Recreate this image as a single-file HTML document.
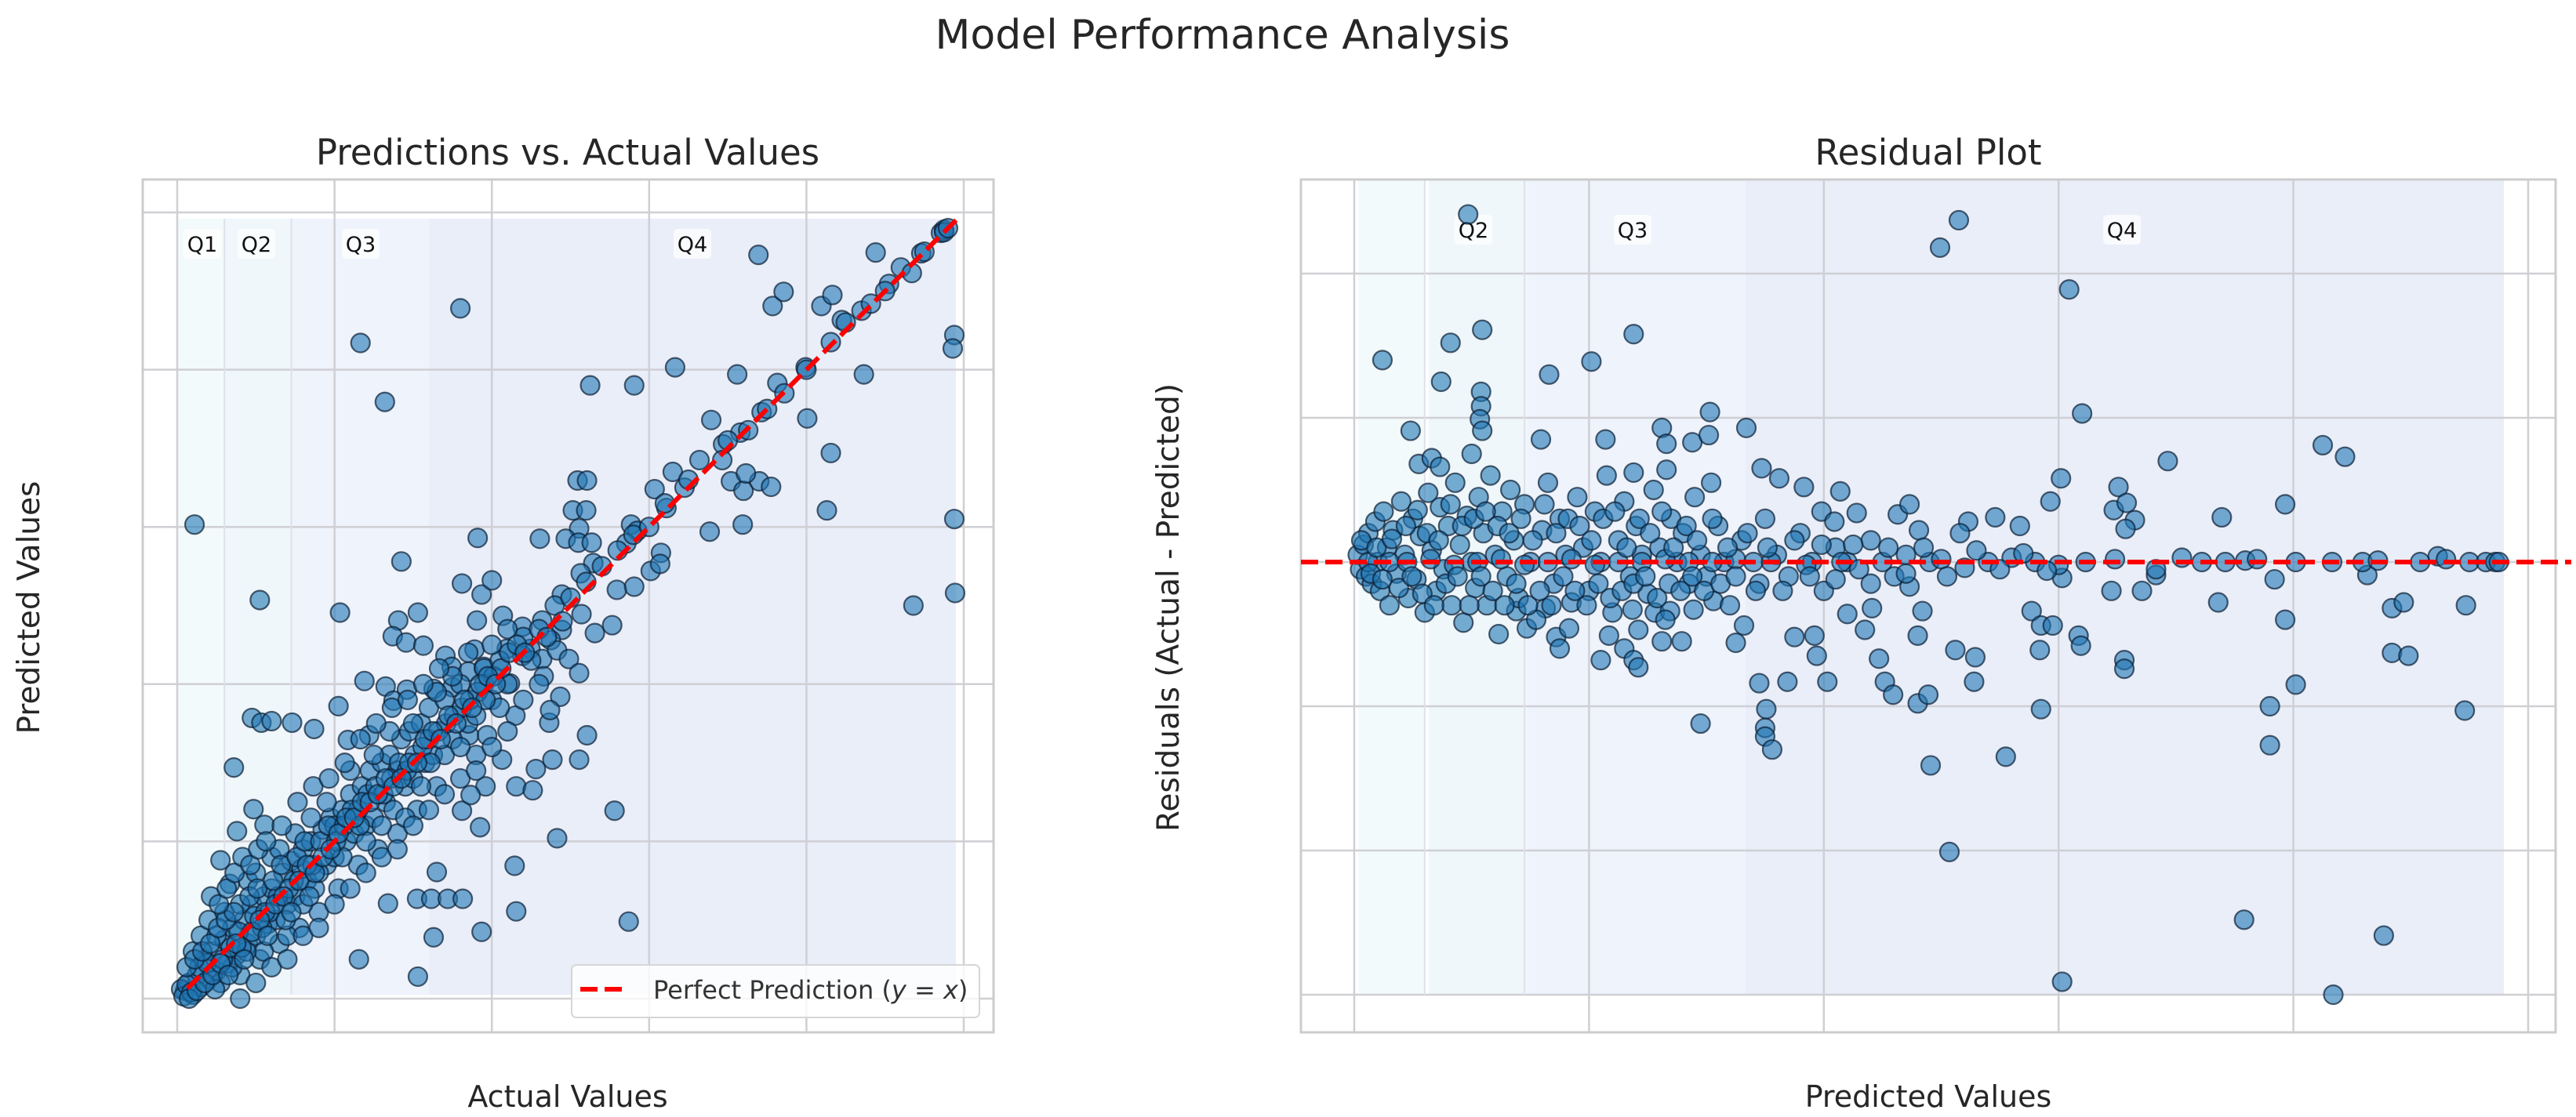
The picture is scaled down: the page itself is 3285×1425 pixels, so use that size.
<!DOCTYPE html>
<html><head><meta charset="utf-8"><style>
html,body{margin:0;padding:0;background:#fff;}
svg{display:block;font-family:"DejaVu Sans","Liberation Sans",sans-serif;}
</style></head><body>
<svg id="fig" width="3285" height="1425" viewBox="0 0 3285 1425" xmlns="http://www.w3.org/2000/svg">
<text x="1559" y="62" font-size="52" fill="#262626" text-anchor="middle">Model Performance Analysis</text>
<g id="left"></g>
<g id="right"></g>
</svg>
<script>
// ---- Left chart data: [actual, predicted]
const leftOutliers = [[0.022,0.603],[0.105,0.507],[0.233,0.834],[0.264,0.759],[0.360,0.878],[0.739,0.946],[0.888,0.949],[0.757,0.881],[0.771,0.899],[0.819,0.881],[0.833,0.895],[0.845,0.863],[0.870,0.875],[0.882,0.884],[0.905,0.909],[0.920,0.930],[0.934,0.923],[0.946,0.948],[0.971,0.974],[0.975,0.978],[0.988,0.844],[0.986,0.827],[0.633,0.803],[0.525,0.780],[0.581,0.780],[0.712,0.794],[0.799,0.803],[0.801,0.738],[0.873,0.794],[0.831,0.835],[0.831,0.694],[0.743,0.746],[0.763,0.783],[0.772,0.770],[0.679,0.736],[0.716,0.720],[0.694,0.705],[0.726,0.723],[0.664,0.685],[0.693,0.685],[0.630,0.670],[0.645,0.650],[0.607,0.648],[0.622,0.624],[0.704,0.658],[0.720,0.646],[0.740,0.658],[0.755,0.651],[0.723,0.668],[0.677,0.594],[0.719,0.603],[0.826,0.621],[0.988,0.610],[0.936,0.500],[0.989,0.516],[0.509,0.659],[0.521,0.659],[0.503,0.621],[0.520,0.621],[0.511,0.598],[0.577,0.603],[0.585,0.595],[0.571,0.579],[0.615,0.567],[0.602,0.544],[0.614,0.553],[0.559,0.520],[0.581,0.524],[0.494,0.585],[0.510,0.580],[0.527,0.580],[0.461,0.585],[0.529,0.554],[0.513,0.541],[0.382,0.586],[0.285,0.556],[0.362,0.528],[0.387,0.514],[0.400,0.532],[0.207,0.491],[0.281,0.481],[0.306,0.491],[0.274,0.461],[0.291,0.453],[0.313,0.449],[0.381,0.481],[0.414,0.487],[0.439,0.473],[0.464,0.481],[0.489,0.514],[0.514,0.489],[0.531,0.465],[0.553,0.475],[0.489,0.469],[0.341,0.436],[0.378,0.444],[0.349,0.422],[0.370,0.416],[0.390,0.422],[0.419,0.445],[0.449,0.445],[0.475,0.456],[0.464,0.432],[0.483,0.443],[0.498,0.432],[0.511,0.414],[0.466,0.410],[0.423,0.401],[0.439,0.436],[0.238,0.404],[0.265,0.397],[0.292,0.393],[0.275,0.379],[0.326,0.394],[0.350,0.396],[0.371,0.335],[0.394,0.335],[0.521,0.335],[0.511,0.304],[0.477,0.304],[0.473,0.351],[0.487,0.384],[0.474,0.367],[0.095,0.357],[0.107,0.351],[0.120,0.353],[0.146,0.351],[0.174,0.343],[0.205,0.372],[0.217,0.329],[0.244,0.335],[0.072,0.294],[0.413,0.304],[0.456,0.292],[0.431,0.270],[0.452,0.265],[0.392,0.270],[0.556,0.239],[0.483,0.204],[0.385,0.218],[0.362,0.239],[0.373,0.259],[0.429,0.169],[0.330,0.161],[0.431,0.111],[0.574,0.098],[0.387,0.085],[0.326,0.078],[0.306,0.028],[0.231,0.050],[0.268,0.121],[0.305,0.127],[0.323,0.127],[0.344,0.127],[0.363,0.127],[0.097,0.241],[0.111,0.221],[0.076,0.213],[0.055,0.176],[0.067,0.146]];
const leftDense = [[0.01,0.01],[0.015,0.02],[0.02,0.005],[0.025,0.03],[0.03,0.015],[0.035,0.05],[0.04,0.025],[0.045,0.06],[0.05,0.035],[0.055,0.02],[0.06,0.075],[0.065,0.045],[0.07,0.09],[0.075,0.055],[0.08,0.03],[0.085,0.1],[0.09,0.07],[0.095,0.12],[0.1,0.08],[0.105,0.05],[0.11,0.13],[0.115,0.095],[0.12,0.14],[0.125,0.1],[0.13,0.07],[0.135,0.16],[0.14,0.12],[0.145,0.175],[0.15,0.13],[0.155,0.09],[0.16,0.19],[0.165,0.15],[0.17,0.2],[0.175,0.14],[0.18,0.11],[0.185,0.215],[0.19,0.17],[0.195,0.23],[0.2,0.18],[0.205,0.14],[0.21,0.24],[0.215,0.2],[0.22,0.26],[0.225,0.21],[0.23,0.17],[0.235,0.27],[0.24,0.22],[0.245,0.29],[0.25,0.23],[0.255,0.19],[0.26,0.3],[0.265,0.25],[0.27,0.31],[0.275,0.24],[0.28,0.21],[0.285,0.33],[0.29,0.27],[0.295,0.34],[0.3,0.28],[0.305,0.24],[0.31,0.35],[0.315,0.3],[0.32,0.37],[0.325,0.31],[0.33,0.27],[0.34,0.38],[0.35,0.33],[0.36,0.4],[0.37,0.35],[0.38,0.31],[0.39,0.42],[0.4,0.38],[0.41,0.43],[0.42,0.4],[0.43,0.36],[0.44,0.46],[0.45,0.43],[0.46,0.47],[0.47,0.46],[0.48,0.5],[0.49,0.48],[0.5,0.51],[0.52,0.53],[0.54,0.55],[0.56,0.57],[0.58,0.59],[0.6,0.6],[0.62,0.63],[0.65,0.66],[0.7,0.71],[0.75,0.75],[0.8,0.8],[0.85,0.86],[0.9,0.9],[0.95,0.95],[0.975,0.975],[0.98,0.98],[0.02,0.06],[0.03,0.08],[0.04,0.1],[0.05,0.08],[0.06,0.11],[0.07,0.04],[0.08,0.12],[0.09,0.15],[0.1,0.16],[0.11,0.06],[0.12,0.18],[0.13,0.19],[0.14,0.08],[0.15,0.21],[0.16,0.12],[0.17,0.23],[0.18,0.16],[0.19,0.25],[0.2,0.22],[0.21,0.18],[0.22,0.29],[0.23,0.24],[0.24,0.2],[0.25,0.31],[0.26,0.22],[0.27,0.34],[0.28,0.29],[0.29,0.23],[0.3,0.35],[0.31,0.27],[0.32,0.33],[0.33,0.39],[0.34,0.31],[0.35,0.41],[0.36,0.32],[0.37,0.44],[0.38,0.36],[0.39,0.4],[0.4,0.45],[0.41,0.37],[0.42,0.47],[0.005,0.012],[0.008,0.003],[0.012,0.018],[0.018,0.008],[0.028,0.04],[0.038,0.045],[0.048,0.012],[0.058,0.05],[0.068,0.065],[0.078,0.085],[0.088,0.06],[0.098,0.105],[0.108,0.09],[0.118,0.11],[0.128,0.13],[0.138,0.1],[0.148,0.15],[0.158,0.165],[0.168,0.13],
[0.012,0.04],[0.022,0.05],[0.032,0.06],[0.042,0.07],[0.052,0.09],[0.062,0.1],[0.072,0.11],[0.082,0.065],[0.092,0.13],[0.102,0.14],[0.112,0.11],[0.122,0.15],[0.132,0.17],[0.142,0.14],[0.152,0.18],[0.162,0.2],[0.172,0.17],[0.182,0.2],[0.192,0.22],[0.202,0.2],[0.212,0.22],[0.222,0.24],[0.232,0.22],[0.242,0.26],[0.252,0.27],[0.262,0.26],[0.272,0.28],[0.282,0.3],[0.292,0.29],[0.302,0.31],[0.312,0.32],[0.322,0.3],[0.332,0.34],[0.342,0.35],[0.352,0.36],[0.362,0.37],[0.372,0.38],[0.382,0.39],[0.392,0.38],[0.402,0.41],[0.412,0.42],[0.422,0.44],[0.432,0.45],[0.442,0.44],[0.015,0.0],[0.025,0.01],[0.035,0.02],[0.045,0.03],[0.055,0.045],[0.065,0.03],[0.075,0.07],[0.085,0.05],[0.095,0.085],[0.105,0.1],[0.115,0.08],[0.125,0.12],[0.135,0.13],[0.145,0.11],[0.155,0.15],[0.165,0.17],[0.175,0.16],[0.185,0.18],[0.195,0.19],[0.205,0.21],[0.215,0.23],[0.225,0.23],[0.235,0.25],[0.245,0.25],[0.255,0.26],[0.265,0.28],[0.275,0.27],[0.285,0.28],[0.295,0.3],[0.305,0.3],[0.315,0.33],[0.325,0.34],[0.335,0.33],[0.345,0.36],[0.355,0.35],[0.365,0.38],[0.375,0.37],[0.385,0.4],[0.395,0.41],[0.405,0.4],[0.043,0.13],[0.053,0.12],[0.063,0.14],[0.073,0.16],[0.083,0.18],[0.093,0.17],[0.103,0.19],[0.113,0.2],[0.133,0.22],[0.153,0.25],[0.173,0.27],[0.193,0.28],[0.213,0.3],[0.233,0.33],[0.253,0.35],[0.273,0.37],[0.293,0.38],[0.313,0.4],[0.333,0.42],[0.08,0.0],[0.1,0.02],[0.12,0.04],[0.14,0.05],[0.16,0.08],[0.18,0.09],[0.2,0.12],[0.22,0.14],[0.24,0.16],[0.26,0.18],[0.28,0.19],[0.3,0.22],[0.32,0.24],[0.34,0.26],[0.36,0.28],[0.38,0.29],[0.4,0.32],[0.42,0.34],[0.44,0.38],[0.46,0.4]];
const leftBands = [0.0, 0.06, 0.145, 0.32, 0.99];
const bandLabels = ["Q1","Q2","Q3","Q4"];
const leftTicks = [0,0.2,0.4,0.6,0.8,1.0];

// ---- Right chart data: [predicted, residual]
const rightOutliers = [[0.097,2.41],[0.515,2.37],[0.499,2.18],[0.609,1.89],[0.024,1.40],[0.082,1.52],[0.109,1.61],[0.074,1.25],[0.166,1.30],[0.202,1.39],[0.238,1.58],[0.108,1.18],[0.108,1.08],[0.107,0.99],[0.109,0.91],[0.100,0.75],[0.048,0.91],[0.159,0.85],[0.214,0.85],[0.262,0.93],[0.266,0.82],[0.288,0.83],[0.302,0.88],[0.303,1.04],[0.334,0.93],[0.620,1.03],[0.825,0.81],[0.844,0.73],[0.693,0.70],[0.055,0.68],[0.066,0.72],[0.073,0.66],[0.238,0.62],[0.266,0.64],[0.304,0.55],[0.347,0.65],[0.362,0.58],[0.383,0.52],[0.414,0.49],[0.602,0.58],[0.593,0.42],[0.651,0.52],[0.647,0.36],[0.658,0.41],[0.665,0.29],[0.657,0.23],[0.739,0.31],[0.793,0.40],[0.398,0.35],[0.409,0.28],[0.428,0.34],[0.463,0.33],[0.473,0.40],[0.481,0.22],[0.523,0.28],[0.546,0.31],[0.567,0.25],[0.516,0.20],[0.138,-0.34],[0.163,-0.32],[0.147,-0.46],[0.172,-0.52],[0.175,-0.60],[0.183,-0.46],[0.210,-0.68],[0.217,-0.51],[0.230,-0.60],[0.238,-0.68],[0.242,-0.73],[0.242,-0.47],[0.262,-0.55],[0.279,-0.55],[0.237,-0.33],[0.256,-0.35],[0.269,-0.34],[0.289,-0.33],[0.306,-0.27],[0.325,-0.56],[0.332,-0.44],[0.345,-0.84],[0.351,-1.02],[0.350,-1.15],[0.350,-1.21],[0.356,-1.30],[0.295,-1.12],[0.369,-0.83],[0.375,-0.52],[0.394,-0.65],[0.392,-0.51],[0.403,-0.83],[0.420,-0.36],[0.435,-0.47],[0.441,-0.32],[0.447,-0.67],[0.452,-0.83],[0.459,-0.92],[0.480,-0.51],[0.480,-0.98],[0.489,-0.92],[0.491,-1.41],[0.484,-0.34],[0.473,-0.17],[0.512,-0.61],[0.529,-0.66],[0.528,-0.83],[0.555,-1.35],[0.585,-1.02],[0.507,-2.01],[0.577,-0.34],[0.585,-0.44],[0.595,-0.44],[0.584,-0.61],[0.617,-0.51],[0.619,-0.58],[0.656,-0.68],[0.656,-0.74],[0.645,-0.20],[0.671,-0.20],[0.683,-0.09],[0.736,-0.28],[0.784,-0.12],[0.793,-0.40],[0.802,-0.85],[0.780,-1.00],[0.780,-1.27],[0.758,-2.48],[0.877,-2.59],[0.834,-3.00],[0.603,-2.91],[0.884,-0.32],[0.894,-0.28],[0.884,-0.63],[0.898,-0.65],[0.947,-0.30],[0.946,-1.03],[0.863,-0.09],[0.603,-0.11]];
const rightDense = [[0.623,0.0],[0.648,0.02],[0.683,-0.05],[0.705,0.03],[0.722,0.0],[0.742,0.0],[0.759,0.01],[0.769,0.02],[0.802,0.0],[0.833,0.0],[0.859,0.0],[0.872,0.01],[0.908,0.0],[0.923,0.04],[0.930,0.02],[0.950,0.0],[0.964,0.0],[0.972,0.0],[0.975,0.0],[0.003,0.05],[0.005,-0.05],[0.008,0.12],[0.01,-0.1],[0.012,0.2],[0.015,-0.15],[0.018,0.28],[0.02,0.0],[0.022,-0.2],[0.025,0.35],[0.028,0.1],[0.03,-0.3],[0.033,0.22],[0.036,-0.08],[0.04,0.42],[0.043,0.05],[0.046,-0.25],[0.05,0.3],[0.053,-0.12],[0.056,0.18],[0.06,-0.35],[0.063,0.48],[0.066,0.08],[0.07,-0.2],[0.073,0.38],[0.076,-0.05],[0.08,0.25],[0.083,-0.3],[0.086,0.55],[0.09,0.12],[0.093,-0.42],[0.096,0.32],[0.1,0.0],[0.103,-0.18],[0.106,0.45],[0.11,0.2],[0.113,-0.3],[0.116,0.6],[0.12,0.05],[0.123,-0.5],[0.126,0.35],[0.13,-0.1],[0.133,0.5],[0.136,0.15],[0.14,-0.25],[0.145,0.4],[0.15,0.0],[0.155,-0.4],[0.16,0.22],[0.165,0.55],[0.17,-0.15],[0.175,0.3],[0.18,0.05],[0.185,-0.28],[0.19,0.45],[0.195,0.1],[0.2,-0.2],[0.205,0.35],[0.21,0.0],[0.215,0.6],[0.22,-0.35],[0.225,0.15],[0.23,0.42],[0.235,-0.1],[0.24,0.25],[0.245,0.05],[0.25,-0.22],[0.255,0.5],[0.26,0.1],[0.265,-0.4],[0.27,0.3],[0.275,0.0],[0.28,0.2],[0.285,-0.15],[0.29,0.45],[0.295,0.05],[0.3,-0.1],[0.31,0.25],[0.315,0.0],[0.32,-0.3],[0.33,0.15],[0.34,0.0],[0.345,-0.15],[0.35,0.3],[0.36,0.05],[0.37,-0.1],[0.38,0.2],[0.39,0.0],[0.4,-0.2],[0.41,0.1],[0.42,0.0],[0.43,-0.05],[0.44,0.15],[0.45,0.0],[0.46,-0.1],[0.47,0.05],[0.49,0.0],[0.5,0.02],[0.52,-0.04],[0.54,0.0],[0.56,0.03],[0.58,0.0],[0.6,-0.02],[0.012,0.0],[0.03,0.0],[0.045,0.0],[0.065,0.02],[0.085,-0.02],[0.105,0.0],[0.125,0.02],[0.145,-0.02],[0.165,0.0],[0.185,0.02],[0.205,-0.02],[0.225,0.0],[0.245,0.0],[0.265,0.02],[0.285,0.0],[0.305,0.0],[0.325,0.02],[0.355,0.0],[0.385,-0.02],[0.415,0.0],
[0.006,0.15],[0.014,-0.08],[0.019,0.1],[0.024,-0.12],[0.032,0.16],[0.038,-0.18],[0.044,0.25],[0.049,-0.1],[0.054,0.36],[0.058,-0.22],[0.062,0.2],[0.068,-0.3],[0.072,0.15],[0.078,-0.15],[0.082,0.4],[0.088,-0.1],[0.092,0.25],[0.098,-0.3],[0.102,0.3],[0.108,-0.1],[0.112,0.35],[0.118,-0.2],[0.122,0.25],[0.128,-0.3],[0.132,0.2],[0.138,-0.15],[0.142,0.3],[0.148,-0.3],[0.152,0.15],[0.158,-0.2],[0.162,0.4],[0.168,-0.3],[0.172,0.2],[0.178,-0.1],[0.182,0.3],[0.188,-0.2],[0.192,0.25],[0.198,-0.3],[0.202,0.15],[0.208,-0.15],[0.212,0.3],[0.218,-0.25],[0.222,0.35],[0.228,-0.2],[0.232,0.1],[0.238,-0.15],[0.243,0.3],[0.248,-0.1],[0.252,0.2],[0.258,-0.25],[0.262,0.35],[0.268,-0.15],[0.272,0.1],[0.278,-0.2],[0.283,0.25],[0.288,-0.1],[0.292,0.15],[0.298,-0.2],[0.305,0.3],[0.312,-0.15],[0.318,0.1],[0.325,-0.1],[0.335,0.2],[0.342,-0.2],[0.352,0.1],[0.365,-0.2],[0.375,0.15],[0.388,-0.1],[0.398,0.12],[0.41,-0.12],[0.425,0.12],[0.44,-0.15],[0.455,0.1],[0.47,-0.08],[0.485,0.1],[0.505,-0.1],[0.53,0.08],[0.55,-0.05],[0.57,0.06],[0.59,-0.06]];
const rightBands = [0.0, 0.06, 0.145, 0.33, 0.976];
const rightXTicks = [0,0.2,0.4,0.6,0.8,1.0];
const rightYTicks = [2,1,0,-1,-2,-3];

const NS = "http://www.w3.org/2000/svg";
function mk(parent, tag, attrs){ const e=document.createElementNS(NS,tag); for(const k in attrs) e.setAttribute(k,attrs[k]); parent.appendChild(e); return e; }
const bandColors = ["#f3fafb","#eff7fb","#eef3fc","#e9eef9"];

// ---------- LEFT ----------
(function(){
  const g=document.getElementById('left');
  const X=v=>226+v*1003, Y=v=>1274-v*1003;
  const box={x0:182,x1:1267,y0:229,y1:1317};
  const bg=mk(g,'rect',{x:box.x0,y:box.y0,width:box.x1-box.x0,height:box.y1-box.y0,fill:'#fff'});
   
  for(let i=0;i<4;i++){
    const r=mk(g,'rect',{x:X(leftBands[i]),y:279,width:X(leftBands[i+1])-X(leftBands[i]),height:990,fill:bandColors[i]});
    
    
  }
  leftTicks.forEach(t=>{
    const v=mk(g,'line',{x1:X(t),x2:X(t),y1:box.y0,y2:box.y1,stroke:'#cfcfd4','stroke-width':2.5});
     
    const h=mk(g,'line',{x1:box.x0,x2:box.x1,y1:Y(t),y2:Y(t),stroke:'#cfcfd4','stroke-width':2.5});
     
  });
  [1,2].forEach(i=>{
    const b=mk(g,'line',{x1:X(leftBands[i]),x2:X(leftBands[i]),y1:279,y2:1269,stroke:'#dde2ea','stroke-width':2});
     
  });
  const fr=mk(g,'rect',{x:box.x0,y:box.y0,width:box.x1-box.x0,height:box.y1-box.y0,fill:'none',stroke:'#cccccc','stroke-width':3});
   
  const qx=[258,327,460,883];
  bandLabels.forEach((q,i)=>{
    const bx=mk(g,'rect',{x:qx[i]-24,y:292,width:48,height:38,rx:5,fill:'#ffffff','fill-opacity':0.7});
     
    const t=mk(g,'text',{x:qx[i],y:321,'font-size':27,'text-anchor':'middle',fill:'#111'}); t.textContent=q;
     
  });
  leftOutliers.concat(leftDense).forEach(p=>{
    const c=mk(g,'circle',{cx:X(p[0]),cy:Y(p[1]),r:12,fill:'#1f77b4','fill-opacity':0.6,stroke:'#0b1e33','stroke-opacity':0.7,'stroke-width':2.2});
     
  });
  const ln=mk(g,'line',{x1:X(0.013),y1:Y(0.013),x2:X(0.992),y2:Y(0.992),stroke:'#ff0000','stroke-width':6,'stroke-dasharray':'22 9'});
   
  const lg=mk(g,'rect',{x:729,y:1231,width:520,height:67,rx:6,fill:'#fff','fill-opacity':0.8,stroke:'#d6d6d6','stroke-width':2});
   
  const ll=mk(g,'line',{x1:740,x2:800,y1:1262,y2:1262,stroke:'#ff0000','stroke-width':6,'stroke-dasharray':'22 9'});
   
  const lt=mk(g,'text',{x:833,y:1274,'font-size':32,fill:'#333'});
  lt.innerHTML='Perfect Prediction (<tspan font-style="italic">y</tspan> = <tspan font-style="italic">x</tspan>)';
   
  const tt=mk(g,'text',{x:724,y:210,'font-size':45,'text-anchor':'middle',fill:'#262626'}); tt.textContent='Predictions vs. Actual Values';
   
  const xl=mk(g,'text',{x:724,y:1412,'font-size':38,'text-anchor':'middle',fill:'#262626'}); xl.textContent='Actual Values';
   
  const yl=mk(g,'text',{x:0,y:0,'font-size':39,'text-anchor':'middle',fill:'#262626',transform:'translate(50,775) rotate(-90)'}); yl.textContent='Predicted Values';
   
})();

// ---------- RIGHT ----------
(function(){
  const g=document.getElementById('right');
  const X=v=>1727+v*1497, Y=v=>717-v*184;
  const box={x0:1659,x1:3259,y0:229,y1:1317};
  for(let i=0;i<4;i++){
    const r=mk(g,'rect',{x:X(rightBands[i])+5,y:box.y0,width:X(rightBands[i+1])-X(rightBands[i])-(i==0?5:0),height:Y(-3)-box.y0,fill:bandColors[i]});
    
    
  }
  rightXTicks.forEach(t=>{
    const v=mk(g,'line',{x1:X(t),x2:X(t),y1:box.y0,y2:box.y1,stroke:'#cfcfd4','stroke-width':2.5});
     
  });
  rightYTicks.forEach(t=>{
    const h=mk(g,'line',{x1:box.x0,x2:box.x1,y1:Y(t),y2:Y(t),stroke:'#cfcfd4','stroke-width':2.5});
     
  });
  [1,2].forEach(i=>{
    const b=mk(g,'line',{x1:X(rightBands[i]),x2:X(rightBands[i]),y1:box.y0,y2:Y(-3),stroke:'#dde2ea','stroke-width':2});
     
  });
  const fr=mk(g,'rect',{x:box.x0,y:box.y0,width:box.x1-box.x0,height:box.y1-box.y0,fill:'none',stroke:'#cccccc','stroke-width':3});
   
  const qx=[null,1879,2082,2706];
  [1,2,3].forEach(i=>{
    const q=bandLabels[i];
    const bx=mk(g,'rect',{x:qx[i]-24,y:274,width:48,height:38,rx:5,fill:'#ffffff','fill-opacity':0.7});
     
    const t=mk(g,'text',{x:qx[i],y:303,'font-size':27,'text-anchor':'middle',fill:'#111'}); t.textContent=q;
     
  });
  rightOutliers.concat(rightDense).forEach(p=>{
    const c=mk(g,'circle',{cx:X(p[0]),cy:Y(p[1]),r:12,fill:'#1f77b4','fill-opacity':0.6,stroke:'#0b1e33','stroke-opacity':0.7,'stroke-width':2.2});
     
  });
  const ln=mk(g,'line',{x1:box.x0,x2:box.x1+20,y1:Y(0),y2:Y(0),stroke:'#ff0000','stroke-width':6,'stroke-dasharray':'22 9'});
   
  const tt=mk(g,'text',{x:2459,y:210,'font-size':45,'text-anchor':'middle',fill:'#262626'}); tt.textContent='Residual Plot';
   
  const xl=mk(g,'text',{x:2459,y:1412,'font-size':38,'text-anchor':'middle',fill:'#262626'}); xl.textContent='Predicted Values';
   
  const yl=mk(g,'text',{x:0,y:0,'font-size':39,'text-anchor':'middle',fill:'#262626',transform:'translate(1503,775) rotate(-90)'}); yl.textContent='Residuals (Actual - Predicted)';
   
})();
</script>
</body></html>
